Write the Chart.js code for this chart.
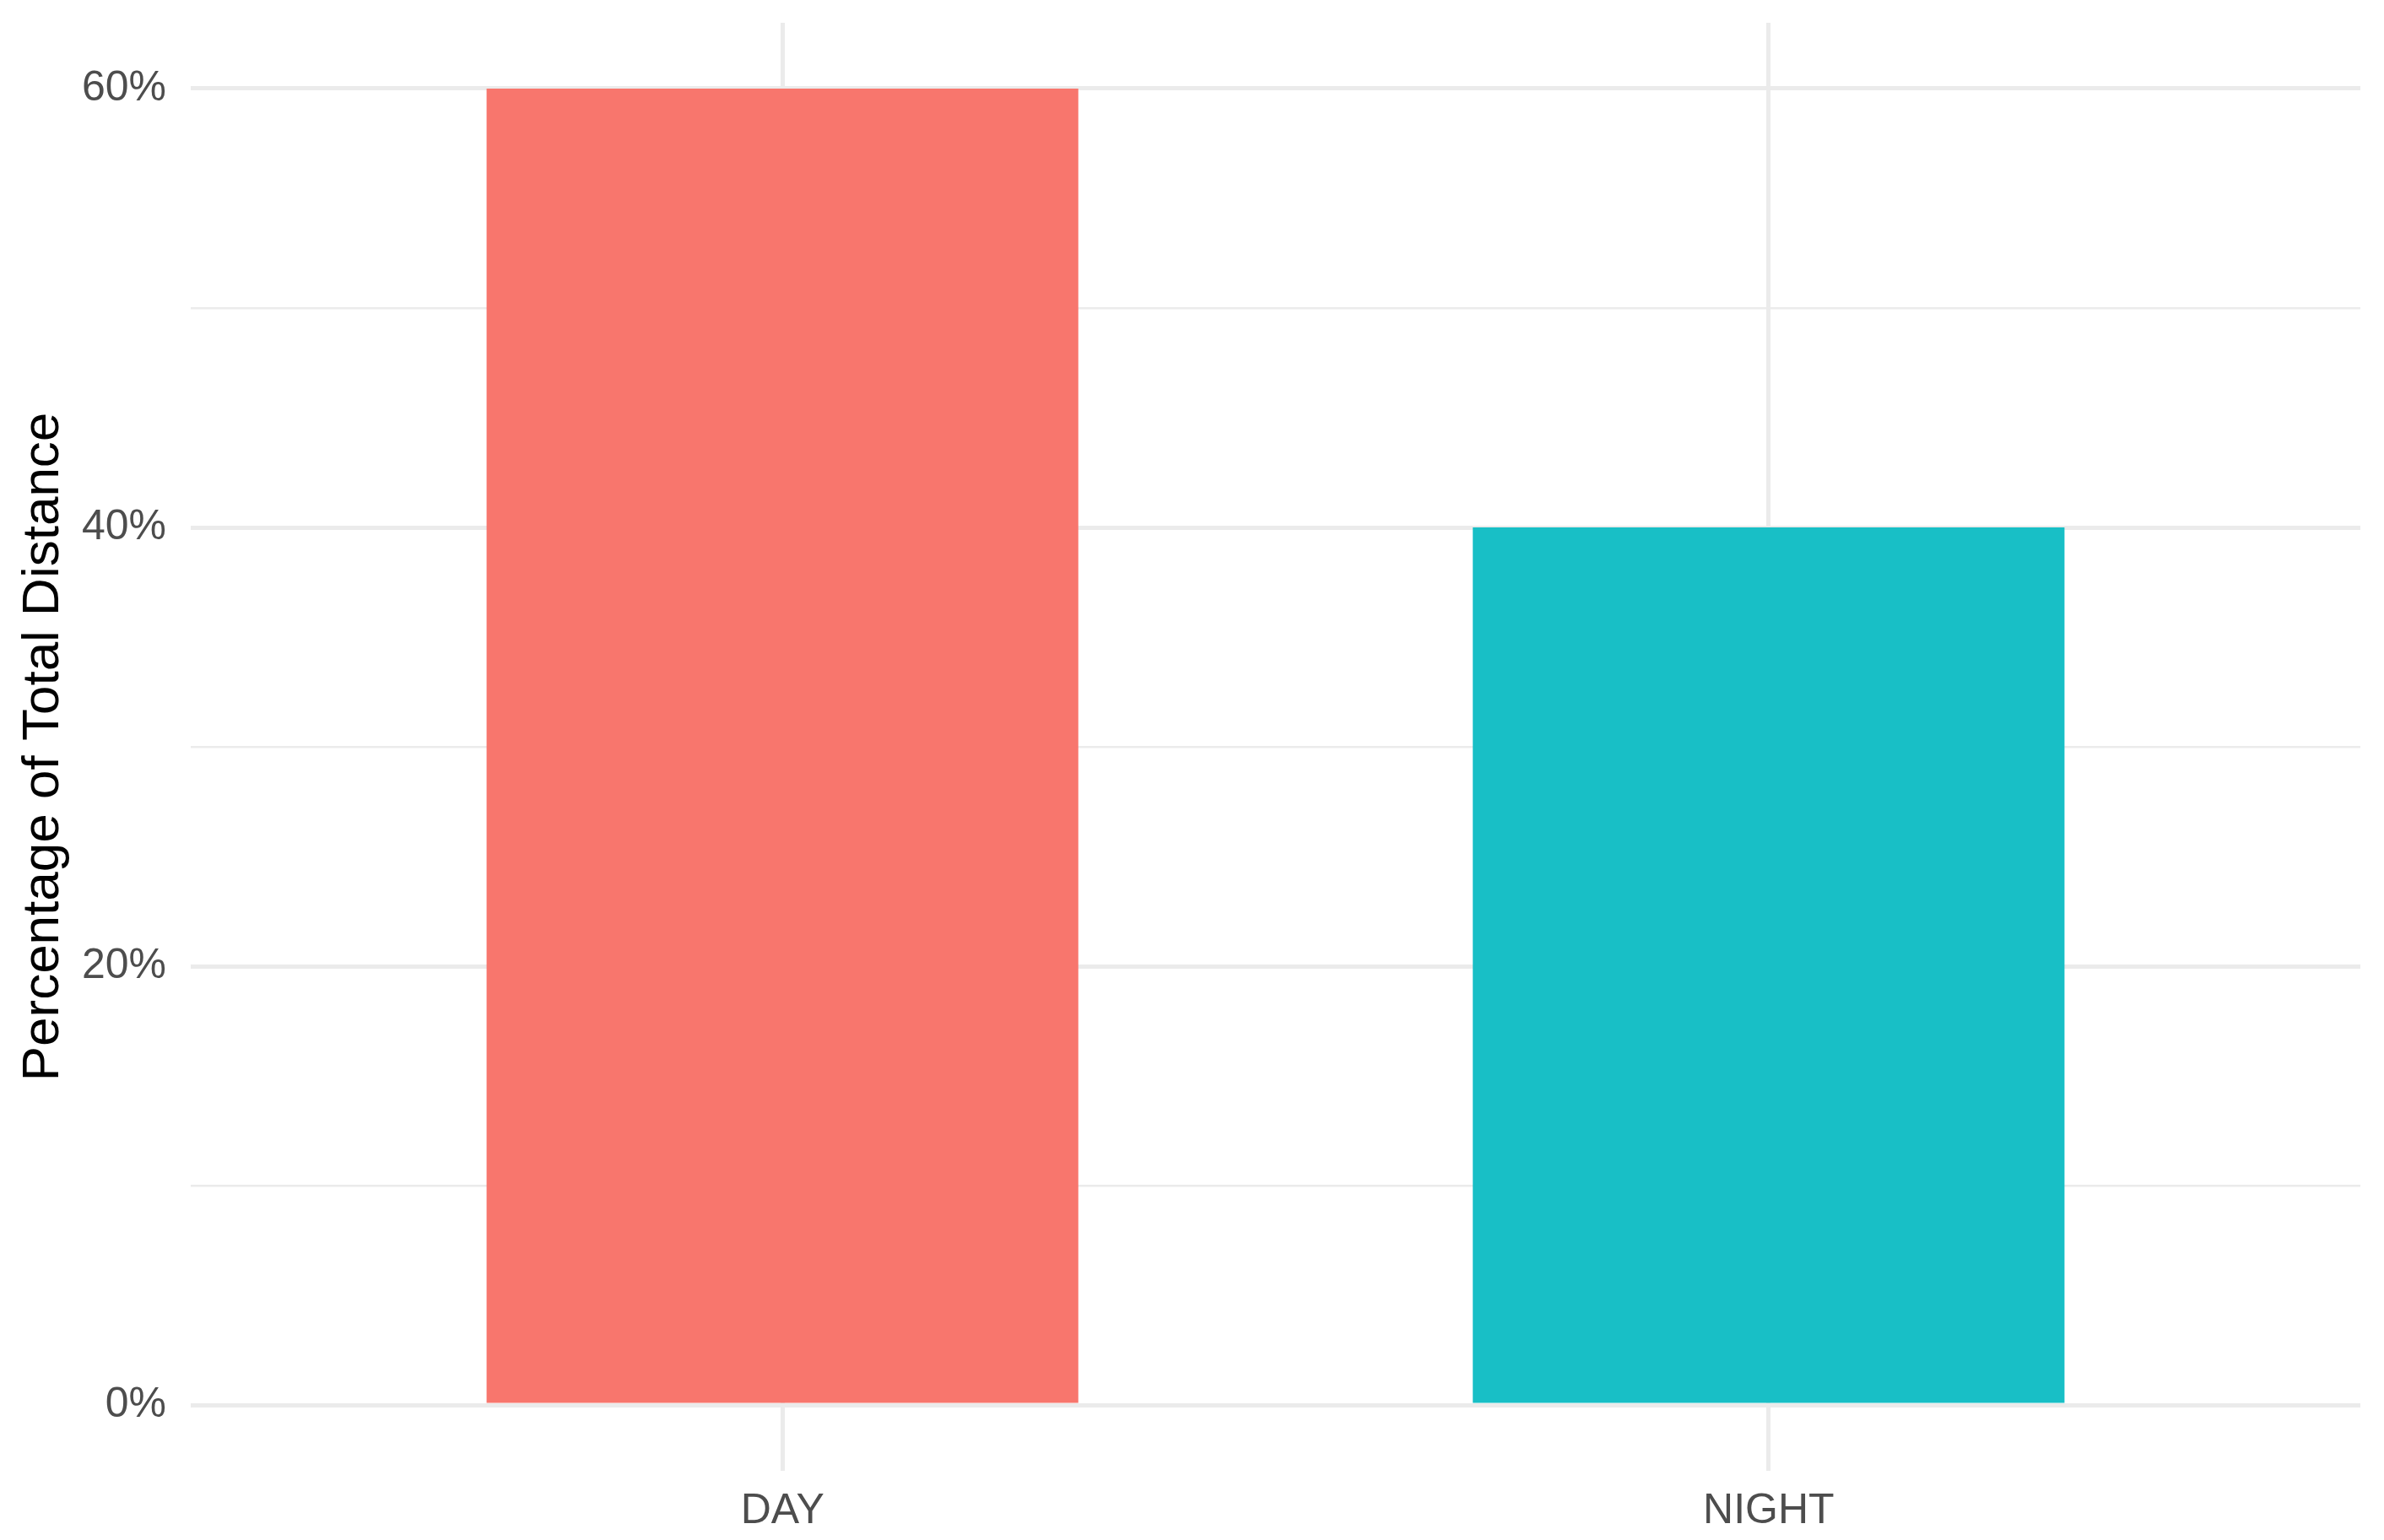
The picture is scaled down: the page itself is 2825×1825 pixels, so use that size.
<!DOCTYPE html>
<html>
<head>
<meta charset="utf-8">
<script src="https://cdn.jsdelivr.net/npm/chart.js@4"></script>
<style>
  body { margin: 0; background: #fff; }
  canvas { display: block; }
</style>
</head>
<body>
<canvas id="myChart" width="2825" height="1825"></canvas>
<script>
// data
const categories = ['DAY', 'NIGHT']
const shares = [60, 40]
const barColors = ['#F8766D', '#18BFC6']
const yTicks = [0, 20, 40, 60]

const ctx = document.getElementById('myChart').getContext('2d')

new Chart(ctx, {
    type: 'bar',
    data: {
        datasets: [
            {
                label: 'Percentage of Total Distance',
                data: categories.map((c, i) => ({ x: i, y: shares[i] })),
                backgroundColor: barColors,
                borderWidth: 0,
                barPercentage: 0.6,
                categoryPercentage: 1
            }
        ]
    },
    options: {
        responsive: false,
        animation: false,
        layout: { padding: { left: 0, top: 27, right: 28, bottom: 0 } },
        plugins: {
            legend: { display: false },
            tooltip: { enabled: false }
        },
        scales: {
            x: {
                type: 'linear',
                min: -0.6,
                max: categories.length - 0.4,
                offset: false,
                border: { display: false },
                grid: { offset: false, color: '#EBEBEB', lineWidth: 5, drawTicks: false },
                afterFit: s => { s.height = 82; s.paddingLeft = 0; s.paddingRight = 0 },
                ticks: {
                    stepSize: 1,
                    includeBounds: false,
                    padding: 18,
                    color: '#4D4D4D',
                    font: { family: 'Liberation Sans', size: 50 },
                    callback: v => categories[v] ?? ''
                }
            },
            y: {
                min: -3,
                max: 63,
                border: { display: false },
                grid: {
                    color: '#EBEBEB',
                    drawTicks: false,
                    lineWidth: c => (yTicks.includes(c.tick.value) ? 5 : 2.5)
                },
                afterFit: s => { s.width = 226; s.paddingTop = 0; s.paddingBottom = 0 },
                ticks: {
                    stepSize: 10,
                    includeBounds: false,
                    padding: 29,
                    color: '#4D4D4D',
                    font: { family: 'Liberation Sans', size: 50 },
                    callback: v => (yTicks.includes(v) ? v + '%' : '')
                },
                title: {
                    display: true,
                    text: 'Percentage of Total Distance',
                    color: '#000000',
                    font: { family: 'Liberation Sans', size: 62 },
                    padding: { top: 15, bottom: 0 }
                }
            }
        }
    }
})
</script>
</body>
</html>
